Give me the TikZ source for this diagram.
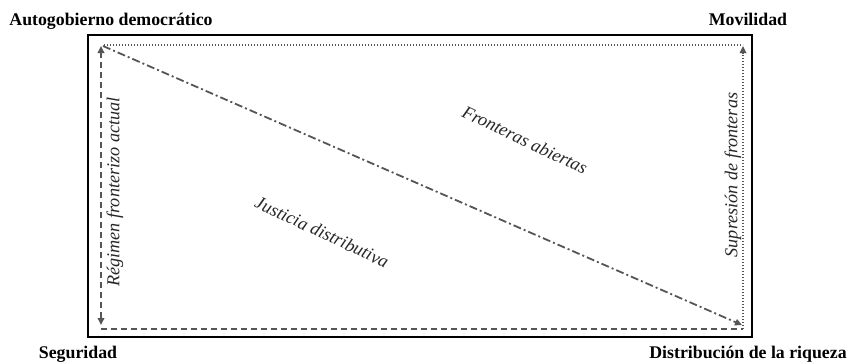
\documentclass[tikz,border=0pt]{standalone}
\usepackage{fontspec}
\setmainfont{Liberation Serif}
\usetikzlibrary{arrows.meta}
\definecolor{linegray}{HTML}{555555}
\tikzset{
  corner/.style={font=\bfseries\fontsize{17.8}{20}\selectfont, anchor=base, inner sep=0pt},
  axislabel/.style={font=\itshape\fontsize{18.2}{20}\selectfont, inner sep=0pt, text=black!85},
  conn/.style={draw=linegray, line width=1.8pt},
  tip/.style={-{Triangle[length=7pt,width=6.5pt]}},
  tips/.style={{Triangle[length=7pt,width=6.5pt]}-{Triangle[length=7pt,width=6.5pt]}},
  dashline/.style={conn, dash pattern=on 6pt off 4pt},
  dotline/.style={conn, line width=1.6pt, dash pattern=on 1.4pt off 1.6pt},
  dashdot/.style={conn, dash pattern=on 8pt off 3pt on 2pt off 3pt},
}
\begin{document}
\begin{tikzpicture}[x=1pt,y=-1pt]
\useasboundingbox (0,0) rectangle (854,362);
\draw[line width=2.8pt] (88,35) rectangle (752,337);
\coordinate (tr) at (743,45);
\coordinate (bl) at (101,329);
\coordinate (br) at (743,329);
\coordinate (ltop) at (101,46);
\coordinate (lbot) at (101,325);
\coordinate (rtop) at (743,46);
\coordinate (dstart) at (103,46);
\coordinate (dend) at (742,325);
\coordinate (tstart) at (104,45);
% lines
\draw[dotline] (tstart) -- (tr);
\draw[dotline, tip] (br) -- (rtop);
\draw[dashline] (bl) -- (br);
\draw[dashline, tips] (lbot) -- (ltop);
\draw[dashdot, tip] (dstart) -- (dend);
% corner labels
\node[corner] (auto) at (111,25) {Autogobierno democrático};
\node[corner] (mov) at (748,25) {Movilidad};
\node[corner] (seg) at (78,358) {Seguridad};
\node[corner] (dist) at (748,358) {Distribución de la riqueza};
% inner labels
\node[axislabel, rotate=90] (reg) at (115,192) {Régimen fronterizo actual};
\node[axislabel, rotate=90] (sup) at (733,175) {Supresión de fronteras};
\node[axislabel, rotate=-25.5] (front) at (525,140) {Fronteras abiertas};
\node[axislabel, rotate=-25] (just) at (322,232) {Justicia distributiva};
\end{tikzpicture}
\end{document}
